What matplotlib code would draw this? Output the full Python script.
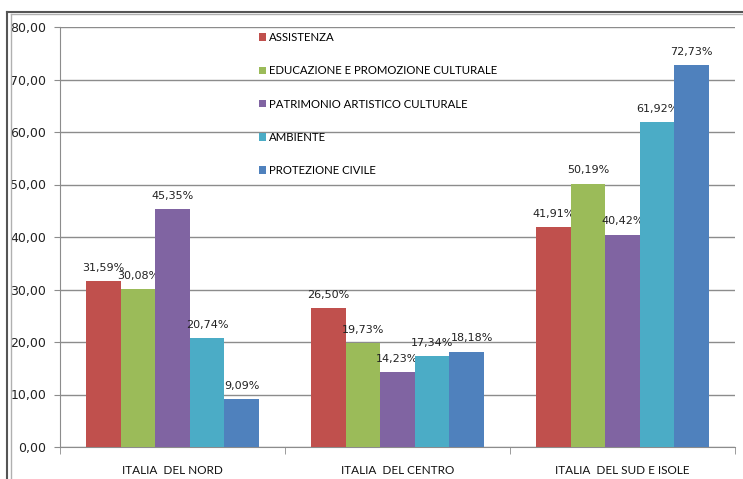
import matplotlib.pyplot as plt
from matplotlib.lines import Line2D
import numpy as np

categories = ["ITALIA  DEL NORD", "ITALIA  DEL CENTRO", "ITALIA  DEL SUD E ISOLE"]
series = ["ASSISTENZA", "EDUCAZIONE E PROMOZIONE CULTURALE",
          "PATRIMONIO ARTISTICO CULTURALE", "AMBIENTE", "PROTEZIONE CIVILE"]
assistenza = [31.59, 26.50, 41.91]
educazione = [30.08, 19.73, 50.19]
patrimonio = [45.35, 14.23, 40.42]
ambiente = [20.74, 17.34, 61.92]
protezione = [9.09, 18.18, 72.73]
colors = ["#C0504D", "#9BBB59", "#8064A2", "#4BACC6", "#4F81BD"]

values = [assistenza, educazione, patrimonio, ambiente, protezione]

W, H = 743, 479
fig = plt.figure(figsize=(W / 100, H / 100), dpi=100)
ax = fig.add_axes([60 / W, 1 - 447 / H, 675 / W, 420 / H])

x = np.arange(len(categories))
bw = 0.1533
for i, (name, vals, c) in enumerate(zip(series, values, colors)):
    bars = ax.bar(x + (i - 2) * bw, vals, bw, color=c, label=name, zorder=3)
    labels = [f"{v:.2f}".replace(".", ",") + "%" for v in vals]
    texts = ax.bar_label(bars, labels=labels, padding=6, fontsize=8, color="#222222",
                         family="DejaVu Sans")
    if name == "PROTEZIONE CIVILE":
        # nudge 18,18% a bit right, like excel did
        texts[1].xyann = (4, 6)

ax.set_xlim(-0.5, 2.5)
ax.set_ylim(0, 80)
ax.set_yticks(np.arange(0, 81, 10))
ax.set_yticklabels([f"{v:.2f}".replace(".", ",") for v in np.arange(0, 81, 10)],
                   fontsize=9, family="DejaVu Sans", color="#222222")
ax.yaxis.grid(True, color="#8c8c8c", linewidth=1, zorder=0)
ax.set_axisbelow(True)

ax.set_xticks(x)
ax.set_xticklabels(categories, fontsize=8.5, family="Lato", color="#111111")
ax.tick_params(axis="x", length=0, pad=13)
ax.set_xticks([-0.5, 0.5, 1.5, 2.5], minor=True)
ax.tick_params(axis="x", which="minor", length=5, color="#8c8c8c", direction="out")
ax.tick_params(axis="y", length=4, color="#8c8c8c", pad=6)

for s in ["top", "right"]:
    ax.spines[s].set_visible(False)
ax.spines["left"].set_color("#8c8c8c")
ax.spines["bottom"].set_color("#8c8c8c")

ax.legend(loc="upper left", bbox_to_anchor=(259 / W, 1 - 32 / H),
          bbox_transform=fig.transFigure, frameon=False,
          prop={"family": "Lato", "size": 8.2},
          handlelength=0.65, handleheight=0.65, handletextpad=0.2,
          labelspacing=1.96, borderpad=0, borderaxespad=0)

# outer frame (left and top edges only)
fig.add_artist(Line2D([7.5 / W, 7.5 / W], [0, 1 - 11.5 / H], color="#555555", lw=1.5))
fig.add_artist(Line2D([7.5 / W, 1], [1 - 11.5 / H, 1 - 11.5 / H], color="#555555", lw=1.5))
fig.add_artist(Line2D([10.5 / W, 10.5 / W], [0, 1 - 14 / H], color="#b0b0b0", lw=1))
fig.add_artist(Line2D([10.5 / W, 1], [1 - 14 / H, 1 - 14 / H], color="#b0b0b0", lw=1))

fig.savefig("out.png", dpi=100)
